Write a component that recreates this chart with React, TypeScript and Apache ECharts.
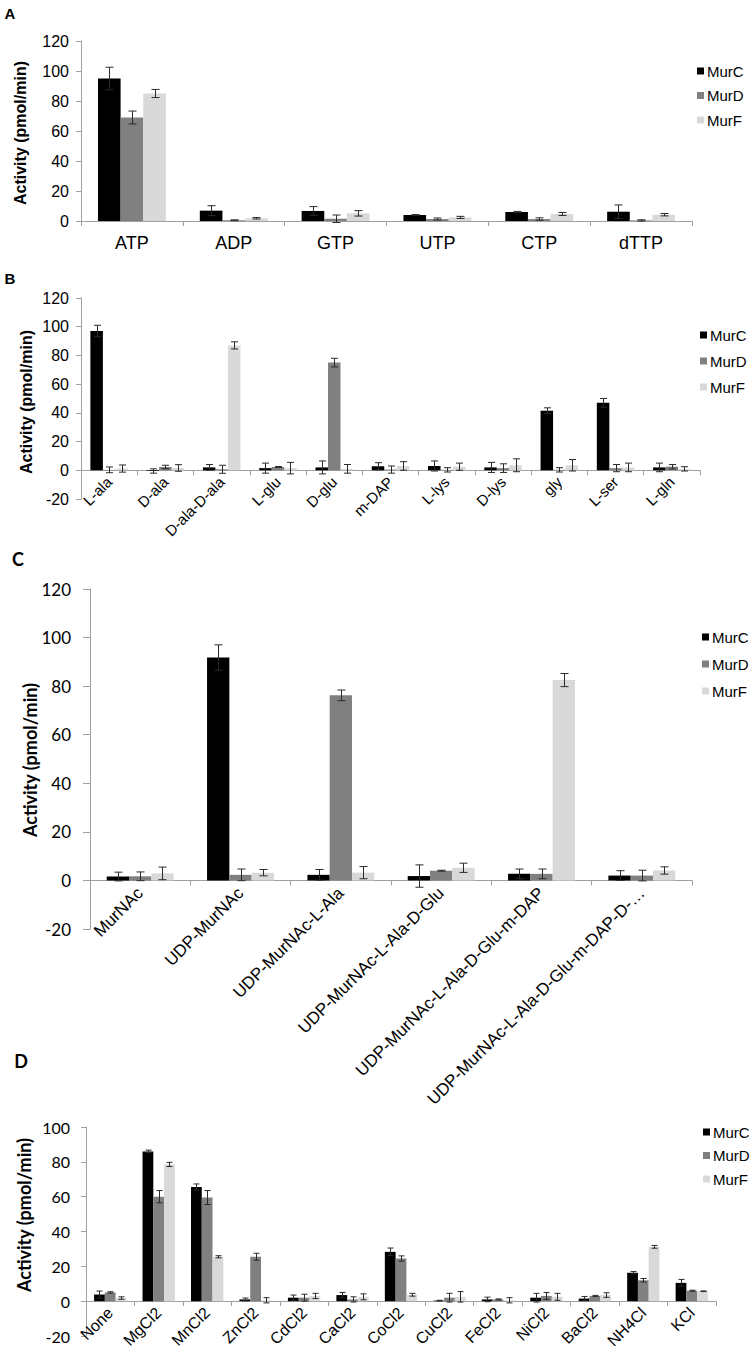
import React, { useEffect, useRef } from "react";
import * as echarts from "echarts";

// ---------- DATA ----------
const seriesNames = ["MurC", "MurD", "MurF"];
const seriesColors = ["#000000", "#808080", "#d9d9d9"];

// Panel A
const catsA = ["ATP", "ADP", "GTP", "UTP", "CTP", "dTTP"];
const murC_A = [95, 6.9, 6.7, 4, 6, 6.2];
const murC_A_err = [7.5, 3.3, 2.9, 0.3, 0.4, 4.5];
const murD_A = [69, 0.5, 1.5, 1.3, 1.3, 0.4];
const murD_A_err = [4.3, 0.3, 2.5, 0.7, 0.8, 0.4];
const murF_A = [85, 1.8, 5.1, 2.4, 4.7, 4.2];
const murF_A_err = [2.7, 0.5, 1.8, 0.7, 1, 0.8];

// Panel B
const catsB = ["L-ala", "D-ala", "D-ala-D-ala", "L-glu", "D-glu", "m-DAP", "L-lys", "D-lys", "gly", "L-ser", "L-gln"];
const murC_B = [97, -0.5, 2, 1.5, 2, 2.8, 3, 2, 41.5, 47, 2];
const murC_B_err = [4, 1.5, 2, 3.5, 4.5, 2.5, 3.5, 3.5, 2, 3, 3];
const murD_B = [0.3, 2.3, 0.7, 2.3, 75, 0.5, 0.3, 1.5, 0.3, 1.5, 2.5];
const murD_B_err = [2, 1.2, 2.8, 0.3, 3, 2.5, 1.5, 3, 1.5, 2.5, 1.5];
const murF_B = [1.2, 1.6, 87, 1.5, 1, 3, 2.5, 3.5, 3.5, 2, 1];
const murF_B_err = [2.5, 2.3, 2.5, 4, 3, 3, 2.5, 4.5, 4, 3, 1.5];

// Panel C
const catsC = [
  "MurNAc",
  "UDP-MurNAc",
  "UDP-MurNAc-L-Ala",
  "UDP-MurNAc-L-Ala-D-Glu",
  "UDP-MurNAc-L-Ala-D-Glu-m-DAP",
  "UDP-MurNAc-L-Ala-D-Glu-m-DAP-D-…",
];
const murC_C = [1.6, 91.8, 2.3, 1.8, 2.7, 2];
const murC_C_err = [1.8, 5.2, 2.2, 4.6, 2, 2];
const murD_C = [1.7, 2.3, 76.2, 4, 2.7, 2];
const murD_C_err = [1.8, 2.4, 2.2, 0.2, 2, 2.2];
const murF_C = [2.9, 3.2, 3.2, 5.2, 82.5, 4.1];
const murF_C_err = [2.6, 1.3, 2.5, 1.9, 2.7, 1.5];

// Panel D
const catsD = ["None", "MgCl2", "MnCl2", "ZnCl2", "CdCl2", "CaCl2", "CoCl2", "CuCl2", "FeCl2", "NiCl2", "BaCl2", "NH4Cl", "KCl"];
const murC_D = [3.8, 86, 65.5, 1, 2, 3.5, 28.3, 0.3, 1, 2, 1.5, 16.3, 10.5];
const murC_D_err = [2, 0.7, 1.8, 0.8, 1.5, 1.5, 2.2, 0.2, 1.3, 2.5, 1.2, 0.7, 2];
const murD_D = [5, 60, 59.5, 25.5, 2, 1, 24.5, 2, 1, 3, 3, 12, 6];
const murD_D_err = [0.4, 3.5, 4, 2, 2, 1.5, 1.5, 2.5, 0.3, 2, 0.3, 1, 0.3];
const murF_D = [1.8, 78.5, 25.5, 0.5, 3, 2.5, 3.7, 2.5, 0.5, 2.5, 3.5, 31.2, 5.7];
const murF_D_err = [0.7, 1.2, 0.6, 1.5, 1.5, 1.7, 0.8, 3, 1.5, 2, 1.3, 0.8, 0.2];

// y-axis ranges
const yMinA = 0, yMaxA = 120;
const yMinB = -20, yMaxB = 120;
const yMinC = -20, yMaxC = 120;
const yMinD = -20, yMaxD = 100;
const yStep = 20;

// ---------- STYLE ----------
const AX = "#a0a0a0";
const ARIAL = "Liberation Sans, Arial, sans-serif";
const CALIBRI = "Lato, Carlito, sans-serif";

type PanelCfg = {
  grid: { left: number; top: number; width: number; height: number };
  cats: string[];
  vals: number[][];
  errs: number[][];
  yMin: number;
  yMax: number;
  xLabel: any;
  yLabel: any;
  yTickLen: number;
  capHalf: number;
  legend: { left: number; top: number; gap: number };
};

const panels: PanelCfg[] = [
  {
    grid: { left: 81, top: 41, width: 611, height: 180 },
    cats: catsA,
    vals: [murC_A, murD_A, murF_A],
    errs: [murC_A_err, murD_A_err, murF_A_err],
    yMin: yMinA, yMax: yMaxA,
    xLabel: { rotate: 0, margin: 13, fontSize: 18, fontFamily: ARIAL },
    yLabel: { margin: 12, fontSize: 16, fontFamily: ARIAL },
    yTickLen: 5,
    capHalf: 4,
    legend: { left: 697, top: 63, gap: 8.5 },
  },
  {
    grid: { left: 81, top: 298, width: 619, height: 201 },
    cats: catsB,
    vals: [murC_B, murD_B, murF_B],
    errs: [murC_B_err, murD_B_err, murF_B_err],
    yMin: yMinB, yMax: yMaxB,
    xLabel: { rotate: 45, margin: 9, fontSize: 15, fontFamily: ARIAL },
    yLabel: { margin: 12, fontSize: 16, fontFamily: ARIAL },
    yTickLen: 5,
    capHalf: 3.5,
    legend: { left: 700, top: 327, gap: 10 },
  },
  {
    grid: { left: 90, top: 589, width: 602, height: 340 },
    cats: catsC,
    vals: [murC_C, murD_C, murF_C],
    errs: [murC_C_err, murD_C_err, murF_C_err],
    yMin: yMinC, yMax: yMaxC,
    xLabel: { rotate: 45, margin: 10, fontSize: 17, fontFamily: ARIAL },
    yLabel: { margin: 19, fontSize: 17, fontFamily: CALIBRI },
    yTickLen: 7,
    capHalf: 4,
    legend: { left: 702, top: 629, gap: 11 },
  },
  {
    grid: { left: 86, top: 1127, width: 630, height: 209 },
    cats: catsD,
    vals: [murC_D, murD_D, murF_D],
    errs: [murC_D_err, murD_D_err, murF_D_err],
    yMin: yMinD, yMax: yMaxD,
    xLabel: { rotate: 45, margin: 9, fontSize: 16, fontFamily: ARIAL },
    yLabel: { margin: 16, fontSize: 16, fontFamily: CALIBRI },
    yTickLen: 5,
    capHalf: 3,
    legend: { left: 703, top: 1124, gap: 7.5 },
  },
];

function buildOption() {
  const grid: any[] = [];
  const xAxis: any[] = [];
  const yAxis: any[] = [];
  const series: any[] = [];
  const legend: any[] = [];

  panels.forEach((p, pi) => {
    grid.push({ ...p.grid, containLabel: false, outerBoundsMode: "none" });
    // place the whole category axis (line, ticks, labels) on the zero line
    const zeroOffset = -(p.grid.height * (0 - p.yMin)) / (p.yMax - p.yMin);
    xAxis.push({
      type: "category",
      gridIndex: pi,
      data: p.cats,
      position: "bottom",
      offset: zeroOffset,
      axisLine: { show: true, onZero: false, lineStyle: { color: AX, width: 1 } },
      axisTick: { show: true, length: 5, alignWithLabel: false, interval: 0, lineStyle: { color: AX } },
      axisLabel: { interval: 0, color: "#000", hideOverlap: false, ...p.xLabel },
      splitLine: { show: false },
    });
    yAxis.push({
      type: "value",
      gridIndex: pi,
      min: p.yMin,
      max: p.yMax,
      interval: yStep,
      axisLine: { show: true, lineStyle: { color: AX, width: 1 } },
      axisTick: { show: true, length: p.yTickLen, lineStyle: { color: AX } },
      axisLabel: { color: "#000", ...p.yLabel },
      splitLine: { show: false },
    });
    p.vals.forEach((vals, si) => {
      series.push({
        type: "bar",
        name: seriesNames[si],
        xAxisIndex: pi,
        yAxisIndex: pi,
        data: vals,
        barGap: "0%",
        barCategoryGap: "33.33%",
        itemStyle: { color: seriesColors[si] },
        silent: true,
      });
    });
    p.vals.forEach((vals, si) => {
      const errs = p.errs[si];
      const capHalf = p.capHalf;
      series.push({
        type: "custom",
        name: seriesNames[si] + " error",
        xAxisIndex: pi,
        yAxisIndex: pi,
        silent: true,
        z: 10,
        data: vals.map((v, i) => [i, v - errs[i], v + errs[i]]),
        encode: { x: 0, y: [1, 2] },
        renderItem: (params: any, api: any) => {
          const idx = api.value(0);
          const lo = api.coord([idx, api.value(1)]);
          const hi = api.coord([idx, api.value(2)]);
          const bw = api.size([1, 0])[0] / 4.5;
          const x = Math.round(lo[0] + (si - 1) * bw) + 0.5;
          const st = { stroke: "#2a2a2a", lineWidth: 1 };
          return {
            type: "group",
            children: [
              { type: "line", shape: { x1: x, y1: lo[1], x2: x, y2: hi[1] }, style: st },
              { type: "line", shape: { x1: x - capHalf, y1: hi[1], x2: x + capHalf, y2: hi[1] }, style: st },
              { type: "line", shape: { x1: x - capHalf, y1: lo[1], x2: x + capHalf, y2: lo[1] }, style: st },
            ],
          };
        },
      });
    });
    legend.push({
      left: p.legend.left,
      top: p.legend.top,
      orient: "vertical",
      icon: "rect",
      itemWidth: 7,
      itemHeight: 7,
      itemGap: p.legend.gap,
      padding: 0,
      selectedMode: false,
      data: seriesNames,
      textStyle: { fontSize: 15, fontFamily: ARIAL, color: "#000", lineHeight: 16, padding: [0, 0, 0, -2] },
    });
  });

  const titleText = (x: number, y: number, fontFamily: string, fontSize: number) => ({
    type: "text",
    x,
    y,
    rotation: Math.PI / 2,
    style: {
      text: "Activity (pmol/min)",
      fontFamily,
      fontSize,
      fontWeight: "bold",
      fill: "#000",
      textAlign: "center",
      textVerticalAlign: "middle",
    },
  });
  const letter = (t: string, x: number, y: number, fontFamily: string, fontSize: number) => ({
    type: "text",
    x,
    y,
    style: { text: t, fontFamily, fontSize, fontWeight: "bold", fill: "#000", textAlign: "center", textVerticalAlign: "middle" },
  });

  const graphic = [
    letter("A", 10, 13, ARIAL, 15),
    letter("B", 10, 278, ARIAL, 15),
    letter("C", 18, 559, CALIBRI, 18),
    letter("D", 21, 1061, CALIBRI, 18),
    titleText(20, 133, ARIAL, 16),
    titleText(26, 402, ARIAL, 16),
    titleText(30, 760, CALIBRI, 18),
    titleText(24, 1215, CALIBRI, 18),
  ];

  return {
    animation: false,
    backgroundColor: "#ffffff",
    grid,
    xAxis,
    yAxis,
    series,
    legend,
    graphic,
  };
}

export default function App() {
  const ref = useRef<HTMLDivElement>(null);
  useEffect(() => {
    document.body.style.margin = "0";
    if (!ref.current) return;
    const chart = echarts.init(ref.current, undefined, { renderer: "svg" });
    chart.setOption(buildOption() as any);
    return () => chart.dispose();
  }, []);
  return <div ref={ref} style={{ width: 755, height: 1364, background: "#fff" }} />;
}
